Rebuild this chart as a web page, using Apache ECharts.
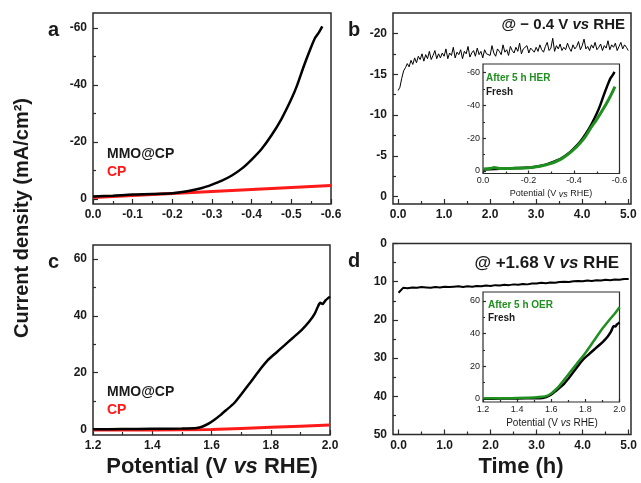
<!DOCTYPE html>
<html><head><meta charset="utf-8">
<script src="https://cdn.jsdelivr.net/npm/echarts@6/dist/echarts.min.js"></script>
<style>html,body{margin:0;padding:0;background:#fff}#c{width:641px;height:483px}</style>
</head><body><div id="c"></div><script>
// ---------------- DATA ----------------
// Panel a (HER LSV)
const potA_MMO = [0, -0.05, -0.1, -0.15, -0.2, -0.225, -0.25, -0.275, -0.3, -0.325, -0.35, -0.375, -0.4, -0.425, -0.45, -0.475, -0.5, -0.515, -0.53, -0.545, -0.56, -0.57, -0.578];
const curA_MMO = [-0.8, -1.1, -1.5, -1.7, -2.0, -2.4, -3.0, -3.8, -5.0, -6.4, -8.2, -10.6, -13.8, -17.5, -22.3, -28.0, -35.0, -40.0, -46.0, -51.5, -56.5, -58.5, -60.5];
const potA_CP = [0, -0.1, -0.2, -0.3, -0.4, -0.5, -0.6];
const curA_CP = [-0.5, -1.2, -1.9, -2.6, -3.3, -4.0, -4.7];
// Panel b (HER chronoamperometry @ -0.4 V), sampled every 0.04 h from 0 h
const bTimeStart = 0, bTimeStep = 0.04;
const curB = [
-13.0, -13.4, -14.5, -15.4, -15.8, -16.3, -15.9, -16.7, -16.2, -17.0,
-16.4, -17.2, -16.8, -17.5, -16.6, -17.4, -16.9, -17.8, -16.8, -17.3,
-17.9, -16.9, -17.5, -17.0, -17.6,
-17.2, -18.1, -16.9, -17.6, -17.3, -18.3, -17.0, -17.7, -17.4, -18.0,
-16.9, -17.8, -17.5, -18.4, -17.1, -17.6, -17.9, -17.2, -18.2, -17.4,
-17.8, -17.0, -18.0, -17.5, -17.7,
-17.3, -18.5, -17.6, -17.2, -18.1, -17.8, -17.4, -18.6, -17.7, -18.0,
-17.3, -18.4, -17.9, -17.6, -18.3, -17.8, -18.8, -17.5, -18.1, -17.9,
-18.5, -17.6, -18.2, -18.0, -17.7,
-18.3, -17.8, -18.6, -18.0, -17.7, -18.4, -18.9, -17.9, -18.2, -19.4,
-17.8, -18.5, -18.1, -18.7, -17.9, -18.3, -18.0, -18.8, -18.2, -17.8,
-18.6, -18.1, -18.4, -19.0, -18.0,
-18.5, -19.3, -18.1, -18.4, -17.9, -18.6, -18.2, -18.9, -18.0, -18.3,
-18.7, -17.9, -18.5, -18.2, -19.1, -18.0, -18.6, -18.3, -18.8, -17.9,
-18.4, -18.9, -18.1, -18.6, -18.3, -17.9
];
// Inset b: after 5 h HER
const potB_After = [0, -0.03, -0.05, -0.07, -0.1, -0.15, -0.2, -0.25, -0.3, -0.325, -0.35, -0.375, -0.4, -0.425, -0.45, -0.475, -0.5, -0.525, -0.55, -0.565, -0.58];
const curB_After = [-1.2, -1.4, -2.0, -1.5, -1.4, -1.6, -1.9, -2.8, -4.6, -6.0, -7.8, -10.2, -13.2, -16.8, -21.0, -26.5, -31.5, -37.0, -43.0, -47.0, -51.5];
// Panel c (OER LSV)
const potC_MMO = [1.2, 1.3, 1.4, 1.5, 1.55, 1.57, 1.59, 1.61, 1.63, 1.65, 1.676, 1.7, 1.733, 1.76, 1.79, 1.82, 1.847, 1.875, 1.904, 1.93, 1.949, 1.96, 1.967, 1.975, 1.985, 2.0];
const curC_MMO = [0.0, 0.1, 0.2, 0.3, 0.5, 1.0, 2.0, 3.4, 5.0, 6.8, 9.2, 12.3, 16.8, 20.6, 24.4, 27.2, 29.7, 32.3, 35.0, 38.0, 40.9, 43.5, 44.6, 44.2, 45.5, 46.8];
const potC_CP = [1.2, 1.4, 1.6, 1.7, 1.8, 1.9, 2.0];
const curC_CP = [-0.2, -0.2, -0.1, 0.3, 0.7, 1.1, 1.5];
// Panel d (OER chronoamperometry @ +1.68 V), sampled every 0.1 h from 0 h
const dTimeStart = 0, dTimeStep = 0.1;
const curD = [
12.9, 11.6, 11.7, 11.5, 11.6, 11.4, 11.5, 11.6, 11.4, 11.5,
11.3, 11.4, 11.3, 11.2, 11.4, 11.2, 11.3, 11.1, 11.2, 11.0,
11.1, 10.9, 11.0, 10.8, 10.9, 10.7, 10.8, 10.6, 10.7, 10.5,
10.5, 10.3, 10.4, 10.2, 10.3, 10.1, 10.0, 10.1, 9.9, 9.8,
9.9, 9.7, 9.8, 9.6, 9.7, 9.5, 9.6, 9.4, 9.5, 9.3, 9.3
];
// Inset d: after 5 h OER
const potD_After = [1.2, 1.3, 1.4, 1.5, 1.55, 1.575, 1.6, 1.625, 1.65, 1.7, 1.75, 1.8, 1.85, 1.9, 1.95, 1.975, 2.0];
const curD_After = [0.3, 0.3, 0.5, 0.8, 1.2, 1.8, 3.2, 5.5, 8.2, 14.8, 21.5, 28.0, 35.5, 43.0, 49.5, 52.5, 56.0];

// Tick values
const ticksA_x = [0, -0.1, -0.2, -0.3, -0.4, -0.5, -0.6];
const ticksA_y = [-60, -40, -20, 0];
const ticksB_x = [0, 1, 2, 3, 4, 5];
const ticksB_y = [-20, -15, -10, -5, 0];
const ticksC_x = [1.2, 1.4, 1.6, 1.8, 2.0];
const ticksC_y = [0, 20, 40, 60];
const ticksD_y = [0, 10, 20, 30, 40, 50];
const ticksIB_x = [0, -0.2, -0.4, -0.6];
const ticksIB_y = [-60, -40, -20, 0];
const ticksID_x = [1.2, 1.4, 1.6, 1.8, 2.0];
const ticksID_y = [0, 20, 40, 60];
const minorA_x = [-0.05, -0.15, -0.25, -0.35, -0.45, -0.55];
const minorA_y = [-50, -30, -10];
const minorB_x = [0.5, 1.5, 2.5, 3.5, 4.5];
const minorB_y = [-17.5, -12.5, -7.5, -2.5];
const minorC_x = [1.3, 1.5, 1.7, 1.9];
const minorC_y = [10, 30, 50];
const minorD_y = [5, 15, 25, 35, 45];
const minorIB_x = [-0.1, -0.3, -0.5];
const minorIB_y = [-50, -30, -10];
const minorID_x = [1.3, 1.5, 1.7, 1.9];
const minorID_y = [10, 30, 50];

// ---------------- CHART ----------------
const FONT = '"Liberation Sans", Arial, Helvetica, sans-serif';
const INK = '#1a1a1a', FRAME = '#2b2b2b', RED = '#ff1a1a', GREEN = '#1f8f1f';
const zip = (xs, ys) => xs.map((x, i) => [x, ys[i]]);
const grids = [], xAxes = [], yAxes = [];
function f1(v){ return (Math.abs(v) < 1e-9 ? 0 : v).toFixed(1); }
function f0(v){ return String(Math.round(v)); }
function addPanel(g, xs, ys) {
  const gi = grids.length;
  grids.push(Object.assign({show: true, borderColor: FRAME, borderWidth: 1.5, backgroundColor: '#fff'}, g));
  const mk = (s, isX, minor) => ({
    type: 'value', gridIndex: gi, min: s.min, max: s.max, inverse: !!s.inverse,
    position: isX ? 'bottom' : 'left', offset: 0, scale: true,
    axisLine: {show: false, onZero: false}, splitLine: {show: false}, minorTick: {show: false},
    axisTick: {show: true, inside: true, length: minor ? s.minLen : s.majLen,
      customValues: minor ? s.minor : s.major, lineStyle: {color: FRAME, width: 1.2}},
    axisLabel: {show: !minor, customValues: s.major, formatter: s.fmt, fontSize: s.fs,
      fontWeight: s.fw, fontFamily: FONT, color: INK, margin: s.margin}
  });
  xAxes.push(mk(xs, true, false), mk(xs, true, true));
  yAxes.push(mk(ys, false, false), mk(ys, false, true));
  return 2 * gi;
}
const mainX = {majLen: 5, minLen: 3, fs: 12, fw: 'bold', margin: 5};
const mainY = {majLen: 5, minLen: 3, fs: 12, fw: 'bold', margin: 6};
const insX = {majLen: 3, minLen: 2, fs: 9, fw: 'normal', margin: 3};
const insY = {majLen: 3, minLen: 2, fs: 9, fw: 'normal', margin: 3};

const aI = addPanel({left: 93, top: 13, width: 238, height: 191},
  Object.assign({min: -0.6, max: 0, inverse: true, major: ticksA_x, minor: minorA_x, fmt: f1}, mainX),
  Object.assign({min: -65.2, max: 1.8, inverse: true, major: ticksA_y, minor: minorA_y, fmt: f0}, mainY));
const bI = addPanel({left: 393, top: 13, width: 238, height: 191},
  Object.assign({min: -0.11, max: 5.06, major: ticksB_x, minor: minorB_x, fmt: f1}, mainX),
  Object.assign({min: -22.5, max: 0.9, inverse: true, major: ticksB_y, minor: minorB_y, fmt: f0}, mainY));
const cI = addPanel({left: 93, top: 245, width: 237, height: 190},
  Object.assign({min: 1.2, max: 2.0, major: ticksC_x, minor: minorC_x, fmt: f1}, mainX),
  Object.assign({min: -2, max: 65, major: ticksC_y, minor: minorC_y, fmt: f0}, mainY));
const dI = addPanel({left: 393, top: 243.5, width: 238, height: 191},
  Object.assign({min: -0.12, max: 5.05, major: ticksB_x, minor: minorB_x, fmt: f1}, mainX),
  Object.assign({min: 0, max: 50, inverse: true, major: ticksD_y, minor: minorD_y, fmt: f0}, mainY));
const ibI = addPanel({left: 483, top: 64, width: 136.5, height: 109.5, borderWidth: 1.2},
  Object.assign({min: -0.6, max: 0, inverse: true, major: ticksIB_x, minor: minorIB_x, fmt: f1}, insX),
  Object.assign({min: -65.3, max: 1.6, inverse: true, major: ticksIB_y, minor: minorIB_y, fmt: f0}, insY));
const idI = addPanel({left: 483, top: 292, width: 136.5, height: 110, borderWidth: 1.2},
  Object.assign({min: 1.2, max: 2.0, major: ticksID_x, minor: minorID_x, fmt: f1, fs: 10}, insX),
  Object.assign({min: -2, max: 65.4, major: ticksID_y, minor: minorID_y, fmt: f0, fs: 10}, insY));

function line(ai, data, color, width, smooth, z) {
  return {type: 'line', xAxisIndex: ai, yAxisIndex: ai, data: data, showSymbol: false, symbol: 'none',
    smooth: smooth || false, clip: true, z: z || 2, lineStyle: {color: color, width: width}, animation: false};
}
const timeB = curB.map((_, i) => bTimeStart + i * bTimeStep);
const timeD = curD.map((_, i) => dTimeStart + i * dTimeStep);

const series = [
  line(aI, zip(potA_CP, curA_CP), RED, 3, false, 2),
  line(aI, zip(potA_MMO, curA_MMO), '#000', 2.5, 0.3, 3),
  line(bI, zip(timeB, curB), '#000', 1, false, 2),
  line(ibI, zip(potA_MMO, curA_MMO), '#000', 2.5, 0.3, 4),
  line(ibI, zip(potB_After, curB_After), GREEN, 3, 0.3, 5),
  line(cI, zip(potC_CP, curC_CP), RED, 3, false, 2),
  line(cI, zip(potC_MMO, curC_MMO), '#000', 2.5, 0.2, 3),
  line(dI, zip(timeD, curD), '#000', 2, false, 2),
  line(idI, zip(potC_MMO, curC_MMO), '#000', 2.5, 0.2, 4),
  line(idI, zip(potD_After, curD_After), GREEN, 2.5, 0.2, 5)
];

function T(x, y, text, o) {
  o = o || {};
  const fs = o.fs || 14, fw = o.fw || 'bold', fill = o.fill || INK;
  const style = {text: text, x: x, y: y, fill: fill, fontSize: fs, fontWeight: fw, fontFamily: FONT,
    font: fw + ' ' + fs + 'px ' + FONT,
    align: o.align || 'left', textAlign: o.align || 'left',
    verticalAlign: 'middle', textVerticalAlign: 'middle'};
  if (o.rich) style.rich = o.rich;
  return {type: 'text', z: 100, rotation: o.rot || 0, x: o.rot ? x : 0, y: o.rot ? y : 0,
    style: o.rot ? Object.assign(style, {x: 0, y: 0}) : style};
}
const ital = (fs) => ({i: {fontSize: fs, fontWeight: 'bold', fontStyle: 'italic', fontFamily: FONT, fill: INK}});
const italN = (fs) => ({i: {fontSize: fs, fontWeight: 'normal', fontStyle: 'italic', fontFamily: FONT, fill: INK}});

const graphic = [
  T(48, 30, 'a', {fs: 20}), T(348, 30, 'b', {fs: 20}), T(48, 262, 'c', {fs: 20}), T(348, 261, 'd', {fs: 20}),
  T(22, 218, 'Current density (mA/cm²)', {fs: 20, align: 'center', rot: Math.PI / 2}),
  T(212, 467, 'Potential (V {i|vs} RHE)', {fs: 22, align: 'center', rich: ital(22)}),
  T(521, 467, 'Time (h)', {fs: 22, align: 'center'}),
  T(625, 25, '@ − 0.4 V {i|vs} RHE', {fs: 15, align: 'right', rich: ital(15)}),
  T(619, 263, '@ +1.68 V {i|vs} RHE', {fs: 17, align: 'right', rich: ital(17)}),
  T(107, 154, 'MMO@CP', {fs: 14}), T(107, 172, 'CP', {fs: 14, fill: RED}),
  T(107, 392, 'MMO@CP', {fs: 14}), T(107, 410, 'CP', {fs: 14, fill: RED}),
  T(486, 78.5, 'After 5 h HER', {fs: 10, fill: GREEN}), T(486, 92.5, 'Fresh', {fs: 10}),
  T(488, 305, 'After 5 h OER', {fs: 10, fill: GREEN}), T(488, 318.5, 'Fresh', {fs: 10}),
  T(551, 194, 'Potential (V {i|vs} RHE)', {fs: 9, fw: 'normal', align: 'center', rich: italN(9)}),
  T(552, 423, 'Potential (V {i|vs} RHE)', {fs: 10, fw: 'normal', align: 'center', rich: italN(10)})
];

const chart = echarts.init(document.getElementById('c'), null, {renderer: 'canvas'});
chart.setOption({
  animation: false, backgroundColor: '#fff',
  grid: grids, xAxis: xAxes, yAxis: yAxes, series: series, graphic: graphic
});
</script></body></html>
